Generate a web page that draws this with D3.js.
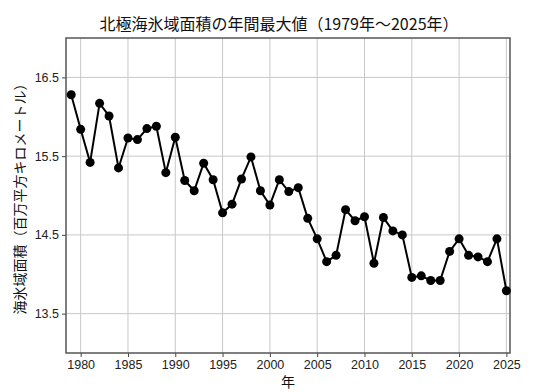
<!DOCTYPE html>
<html>
<head>
<meta charset="utf-8">
<script src="https://cdn.jsdelivr.net/npm/d3@7"></script>
<style>
  body { margin: 0; background: #fff; }
  svg { font-family: "Noto Sans CJK JP", "Noto Sans", sans-serif; }
</style>
</head>
<body>
<div id="chart"></div>
<script>
// annual maximum sea ice extent, million km2
var years = d3.range(1979, 2026);
var extent = [16.28, 15.84, 15.42, 16.17, 16.01, 15.35, 15.73, 15.71, 15.85, 15.88,
              15.29, 15.74, 15.19, 15.06, 15.41, 15.20, 14.78, 14.89, 15.21, 15.49,
              15.06, 14.88, 15.20, 15.05, 15.10, 14.71, 14.45, 14.16, 14.24, 14.82,
              14.68, 14.73, 14.14, 14.72, 14.55, 14.50, 13.96, 13.98, 13.92, 13.92,
              14.29, 14.45, 14.24, 14.22, 14.16, 14.45, 13.79];
var xTicks = [1980, 1985, 1990, 1995, 2000, 2005, 2010, 2015, 2020, 2025];
var yTicks = [13.5, 14.5, 15.5, 16.5];

var width = 533,
    height = 392;
var margin = {top: 38, right: 23, bottom: 39, left: 66};

var svg = d3.select("#chart")
            .append("svg")
            .attr("width", width)
            .attr("height", height);

var x = d3.scaleLinear()
          .domain([1978.45, 2025.38])
          .range([margin.left, width - margin.right]);

var y = d3.scaleLinear()
          .domain([13, 17])
          .range([height - margin.bottom, margin.top]);

// grid lines
svg.append("g").selectAll("line.vgrid")
   .data(xTicks)
   .enter()
   .append("line")
   .attr("x1", function (d) { return x(d); })
   .attr("x2", function (d) { return x(d); })
   .attr("y1", y(17))
   .attr("y2", y(13))
   .attr("stroke", "#c8c8c8")
   .attr("stroke-width", 1);

svg.append("g").selectAll("line.hgrid")
   .data(yTicks)
   .enter()
   .append("line")
   .attr("x1", x.range()[0])
   .attr("x2", x.range()[1])
   .attr("y1", function (d) { return y(d); })
   .attr("y2", function (d) { return y(d); })
   .attr("stroke", "#c8c8c8")
   .attr("stroke-width", 1);

// axes
var xAxis = svg.append("g")
   .attr("transform", "translate(0," + y(13) + ")")
   .call(d3.axisBottom(x).tickValues(xTicks).tickFormat(d3.format("d")).tickSize(4).tickPadding(3));

var yAxis = svg.append("g")
   .attr("transform", "translate(" + x.range()[0] + ",0)")
   .call(d3.axisLeft(y).tickValues(yTicks).tickFormat(d3.format(".1f")).tickSize(4).tickPadding(3));

[xAxis, yAxis].forEach(function (a) {
  a.select(".domain").remove();
  a.selectAll("line").attr("stroke", "#444");
  a.selectAll("text").attr("fill", "#222").style("font-size", "12.5px");
});

// frame
svg.append("rect")
   .attr("x", x.range()[0])
   .attr("y", y(17))
   .attr("width", x.range()[1] - x.range()[0])
   .attr("height", y(13) - y(17))
   .attr("fill", "none")
   .attr("stroke", "#555")
   .attr("stroke-width", 1.5);

// series
var line = d3.line()
   .x(function (d, i) { return x(years[i]); })
   .y(function (d) { return y(d); });

svg.append("path")
   .datum(extent)
   .attr("d", line)
   .attr("fill", "none")
   .attr("stroke", "#000")
   .attr("stroke-width", 2);

svg.append("g").selectAll("circle")
   .data(extent)
   .enter()
   .append("circle")
   .attr("cx", function (d, i) { return x(years[i]); })
   .attr("cy", function (d) { return y(d); })
   .attr("r", 4.5)
   .attr("fill", "#000");

// text
svg.append("text")
   .attr("x", 279)
   .attr("y", 30)
   .attr("text-anchor", "middle")
   .style("font-size", "16px")
   .attr("fill", "#111")
   .text("北極海氷域面積の年間最大値（1979年～2025年）");

svg.append("text")
   .attr("x", (x.range()[0] + x.range()[1]) / 2)
   .attr("y", 387)
   .attr("text-anchor", "middle")
   .style("font-size", "14px")
   .attr("fill", "#111")
   .text("年");

svg.append("text")
   .attr("transform", "translate(25," + ((y(13) + y(17)) / 2) + ") rotate(-90)")
   .attr("text-anchor", "middle")
   .style("font-size", "14px")
   .attr("fill", "#111")
   .text("海氷域面積（百万平方キロメートル）");
</script>
</body>
</html>
